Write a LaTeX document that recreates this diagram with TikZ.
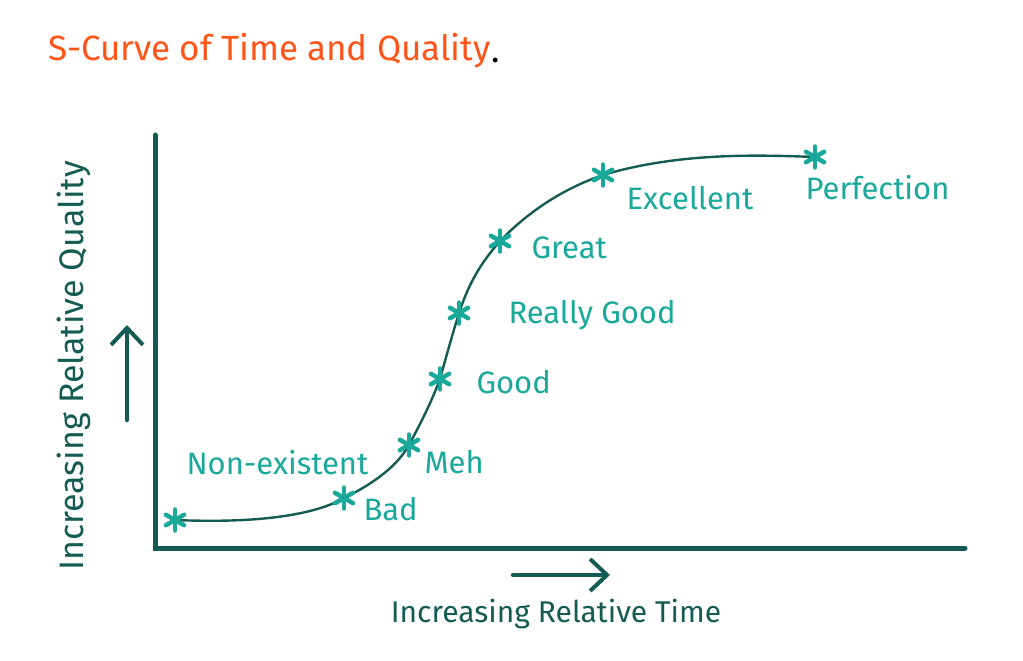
\documentclass[tikz,border=0pt]{standalone}
\usepackage{fontspec}
\setmainfont{Fira Sans}
\usepackage{tikz}
\usetikzlibrary{arrows.meta, positioning}
\definecolor{axisteal}{HTML}{145B53}
\definecolor{pointteal}{HTML}{1AA89B}
\definecolor{titleorange}{HTML}{FF5418}
\tikzstyle{arrow} = [
  -{Straight Barb[length=17pt, width=32pt, line width=4pt]}, line width=4.5pt,
  line cap=round, color=axisteal
]

\begin{document}
\begin{tikzpicture}[
  x=1pt, y=-1pt,
  axis/.style={line width=5pt, color=axisteal, line cap=round},
  curve/.style={line width=2.4pt, color=axisteal},
  pt/.style={circle, inner sep=0pt, minimum size=28pt,
             path picture={\foreach \a in {90,30,150}{
               \draw[line width=4.5pt, line cap=round, pointteal]
                 (path picture bounding box.center) ++(\a:10.5pt) -- ++(\a+180:21pt);}}},
  lbl/.style={anchor=base west, text=pointteal, font=\fontsize{31}{35}\selectfont},
  axislbl/.style={anchor=base, text=axisteal, font=\fontsize{30}{34}\selectfont},
]
  \useasboundingbox (0,0) rectangle (1023,661);

  % title
  \node[anchor=base west, text=titleorange, font=\fontsize{35}{40}\selectfont, inner sep=0pt]
    (title) at (48,60) {S-Curve of Time and Quality};
  \node[anchor=base west, inner sep=0pt, font=\fontsize{35}{40}\selectfont, right=1pt of title.base east]
    (dot) {.};

  % axes
  \coordinate (origin) at (155,548);
  \coordinate (ytop)   at (155,135);
  \coordinate (xend)   at (965,548);
  \draw[axis] (ytop) -- (origin) -- (xend);

  % direction arrows
  \coordinate (qlow)  at (127,420);
  \coordinate (qhigh) at (127,325);
  \coordinate (tlow)  at (513,575);
  \coordinate (thigh) at (610,575);
  \draw[arrow] (qlow) -- (qhigh);
  \draw[arrow] (tlow) -- (thigh);

  \node[axislbl, rotate=90, font=\fontsize{34}{38}\selectfont] (quality) at (83,366) {Increasing Relative Quality};
  \node[axislbl] (time) at (556,622) {Increasing Relative Time};

  % the curve
  \coordinate (c1) at (175,520);
  \coordinate (c2) at (344,498);
  \coordinate (c3) at (409,445);
  \coordinate (c4) at (440,379);
  \coordinate (c5) at (459,313);
  \coordinate (c6) at (500,241);
  \coordinate (c7) at (603,175);
  \coordinate (c8) at (815,157);
  \draw[curve] (c1) .. controls (270,524) and (320,512) .. (c2)
               .. controls (375,483) and (398,465) .. (c3)
               .. controls (425,415) and (432,400) .. (c4)
               .. controls (448,350) and (452,336) .. (c5)
               .. controls (470,280) and (482,262) .. (c6)
               .. controls (530,210) and (565,188) .. (c7)
               .. controls (680,152) and (760,155) .. (c8);

  \node[pt] (nonexistent) at (c1) {};
  \node[pt] (bad)         at (c2) {};
  \node[pt] (meh)         at (c3) {};
  \node[pt] (good)        at (c4) {};
  \node[pt] (reallygood)  at (c5) {};
  \node[pt] (great)       at (c6) {};
  \node[pt] (excellent)   at (c7) {};
  \node[pt] (perfection)  at (c8) {};

  % labels
  \node[lbl] (lnonexistent) at (183,474) {Non-existent};
  \node[lbl] (lbad)         at (360,520) {Bad};
  \node[lbl] (lmeh)         at (421,473) {Meh};
  \node[lbl] (lgood)        at (473,393) {Good};
  \node[lbl] (lreallygood)  at (505,323) {Really Good};
  \node[lbl] (lgreat)       at (528,258) {Great};
  \node[lbl] (lexcellent)   at (623,209) {Excellent};
  \node[lbl] (lperfection)  at (802,199) {Perfection};
\end{tikzpicture}
\end{document}
